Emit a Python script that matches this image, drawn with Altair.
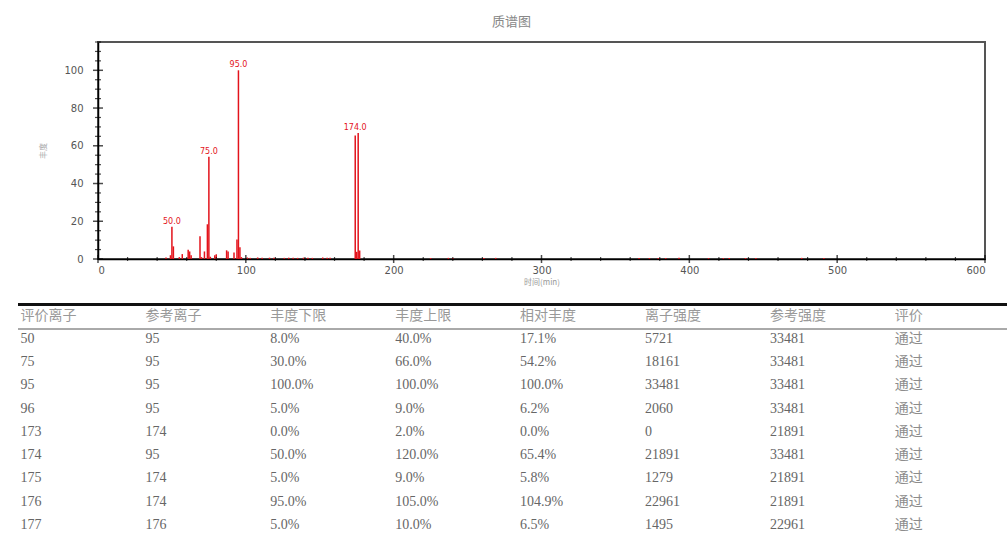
import altair as alt
import pandas as pd

# ---------------- spectrum data (m/z, relative abundance %) ----------------
peak_mz = [46, 49, 50, 51, 55, 57, 61, 62, 63, 69, 70, 72, 74, 75, 76, 79, 80,
           87, 88, 92, 94, 95, 96, 97,
           101, 103, 108, 111, 116, 119, 126, 129, 132, 135, 139, 142, 145, 152, 155, 157,
           173, 174, 175, 176, 177,
           225, 237, 240, 261, 269, 366, 373, 379, 384, 393, 413, 423, 427, 438, 445, 476, 491]
peak_int = [0.8, 2.0, 17.1, 6.7, 1.0, 2.6, 4.9, 4.0, 2.0, 12.0, 1.0, 4.0, 18.4, 54.2, 1.2, 2.0, 2.5,
            4.6, 4.0, 3.5, 10.3, 100.0, 6.2, 1.0,
            0.8, 0.6, 0.8, 0.6, 0.7, 0.6, 0.6, 0.7, 0.6, 0.6, 0.7, 0.6, 0.6, 0.8, 0.7, 0.6,
            0.0, 65.4, 3.8, 66.8, 4.5,
            0.5, 0.6, 0.5, 0.5, 0.6, 0.5, 0.5, 0.5, 0.5, 0.7, 0.5, 0.5, 0.5, 0.5, 0.5, 0.6, 0.5]

label_mz = [50, 75, 95, 174]
label_int = [17.1, 54.2, 100.0, 66.8]
label_txt = ["50.0", "75.0", "95.0", "174.0"]

x_major = [0, 100, 200, 300, 400, 500, 600]
x_minor = [v for v in range(0, 601, 20) if v % 100 != 0]
y_major = [0, 20, 40, 60, 80, 100]
y_minor = [v for v in range(0, 116, 5) if v % 20 != 0]

# ---------------- table data ----------------
headers = ["评价离子", "参考离子", "丰度下限", "丰度上限", "相对丰度", "离子强度", "参考强度", "评价"]
eval_ion = ["50", "75", "95", "96", "173", "174", "175", "176", "177"]
ref_ion = ["95", "95", "95", "95", "174", "95", "174", "174", "176"]
low_lim = ["8.0%", "30.0%", "100.0%", "5.0%", "0.0%", "50.0%", "5.0%", "95.0%", "5.0%"]
high_lim = ["40.0%", "66.0%", "100.0%", "9.0%", "2.0%", "120.0%", "9.0%", "105.0%", "10.0%"]
rel_ab = ["17.1%", "54.2%", "100.0%", "6.2%", "0.0%", "65.4%", "5.8%", "104.9%", "6.5%"]
ion_int = ["5721", "18161", "33481", "2060", "0", "21891", "1279", "22961", "1495"]
ref_int = ["33481", "33481", "33481", "33481", "21891", "33481", "21891", "21891", "22961"]
result = ["通过"] * 9

columns = [eval_ion, ref_ion, low_lim, high_lim, rel_ab, ion_int, ref_int, result]

rows = []
for c, h in enumerate(headers):
    rows.append({"col": c, "row": 0, "txt": h, "kind": "hdr"})
for c, colvals in enumerate(columns):
    for r, v in enumerate(colvals):
        rows.append({"col": c, "row": r + 1, "txt": v,
                     "kind": "cjk" if c == len(columns) - 1 else "num"})
table_df = pd.DataFrame(rows)

spec_df = pd.DataFrame({"mz": peak_mz, "inten": peak_int})
lab_df = pd.DataFrame({"mz": label_mz, "inten": label_int, "txt": label_txt})

RED = "#e3131b"
AXFONT = "DejaVu Sans"
CJK = "Noto Sans CJK SC"
TBLFONT = "'Liberation Serif', 'Noto Sans CJK SC'"

xs = alt.Scale(domain=[0, 600], nice=False, zero=True)
ys = alt.Scale(domain=[0, 115], nice=False, zero=True)

x_axis = alt.Axis(values=x_major, ticks=False, tickSize=0, grid=False, labelPadding=6,
                  labelFont=AXFONT, labelFontSize=10, labelColor="#555", domainColor="#000",
                  domainWidth=1.5, title="时间(min)", titleFont=CJK, titleFontSize=8,
                  titleFontWeight="normal", titleColor="#999", titlePadding=3)
y_axis = alt.Axis(values=y_major, ticks=False, tickSize=0, grid=False, labelPadding=15,
                  labelFont=AXFONT, labelFontSize=10, labelColor="#555", domainColor="#000",
                  domainWidth=1.5, title="丰度", titleFont=CJK, titleFontSize=8,
                  titleFontWeight="normal", titleColor="#aaa", titlePadding=16)

peaks = alt.Chart(spec_df).mark_rule(color=RED, strokeWidth=1.5).encode(
    x=alt.X("mz:Q", scale=xs, axis=x_axis),
    y=alt.Y("inten:Q", scale=ys, axis=y_axis),
    y2=alt.datum(0),
)

labels = alt.Chart(lab_df).mark_text(color=RED, font=AXFONT, fontSize=8, dy=-5,
                                     baseline="middle", align="center").encode(
    x=alt.X("mz:Q", scale=xs),
    y=alt.Y("inten:Q", scale=ys),
    text="txt:N",
)

ytick_major = alt.Chart(pd.DataFrame({"v": y_major})).mark_tick(
    orient="horizontal", size=10, thickness=1.5, color="#000").encode(
    x=alt.X("z:Q", scale=xs),
    y=alt.Y("v:Q", scale=ys),
).transform_calculate(z="0")

ytick_minor = alt.Chart(pd.DataFrame({"v": y_minor})).mark_tick(
    orient="horizontal", size=6, thickness=1.2, color="#000").encode(
    x=alt.X("z:Q", scale=xs),
    y=alt.Y("v:Q", scale=ys),
).transform_calculate(z="0")

xtick_major = alt.Chart(pd.DataFrame({"v": x_major})).mark_tick(
    orient="vertical", size=8, thickness=1.5, color="#000").encode(
    x=alt.X("v:Q", scale=xs),
    y=alt.Y("z:Q", scale=ys),
).transform_calculate(z="0")

xtick_minor = alt.Chart(pd.DataFrame({"v": x_minor})).mark_tick(
    orient="vertical", size=4, thickness=1.2, color="#000").encode(
    x=alt.X("v:Q", scale=xs),
    y=alt.Y("z:Q", scale=ys),
).transform_calculate(z="0")

spectrum = alt.layer(peaks, labels, ytick_minor, ytick_major, xtick_minor, xtick_major)

# table: column index / row index mapped through own scales
tx = alt.Scale(domain=[0, 7], range=[-77.5, 796.8])
ty = alt.Scale(domain=[0, 9], range=[273.5, 483])

tbl_text = alt.Chart(table_df).mark_text(align="left", baseline="middle", font=TBLFONT,
                                         fontSize=14).encode(
    x=alt.X("col:Q", scale=tx, axis=None),
    y=alt.Y("row:Q", scale=ty, axis=None),
    text="txt:N",
    color=alt.Color("kind:N", legend=None,
                    scale=alt.Scale(domain=["hdr", "num", "cjk"],
                                    range=["#999999", "#666666", "#8c8c8c"])),
)

thick_line = alt.Chart(pd.DataFrame({"a": [0]})).mark_rule(color="#111", strokeWidth=3).encode(
    x=alt.X("x0:Q", scale=tx, axis=None),
    x2="x1:Q",
    y=alt.Y("y0:Q", scale=ty, axis=None),
).transform_calculate(x0="-0.02", x1="8", y0="-0.47")

thin_line = alt.Chart(pd.DataFrame({"a": [0]})).mark_rule(color="#555", strokeWidth=1).encode(
    x=alt.X("x0:Q", scale=tx, axis=None),
    x2="x1:Q",
    y=alt.Y("y0:Q", scale=ty, axis=None),
).transform_calculate(x0="-0.02", x1="8", y0="0.58")

table = alt.layer(thick_line, thin_line, tbl_text)

chart = alt.layer(spectrum, table).resolve_scale(
    x="independent", y="independent", color="independent"
).properties(
    width=887,
    height=217,
    padding={"left": 98, "top": 42, "right": 22, "bottom": 275},
    autosize=alt.AutoSizeParams(type="none"),
    background="white",
    title=alt.TitleParams("质谱图", font=CJK, fontSize=13, fontWeight="normal",
                          color="#888", anchor="middle", frame="group", dx=-30, offset=12),
).configure_view(stroke="#555", strokeWidth=2)

chart.save("out.html", embed_options={"renderer": "svg", "actions": False})
